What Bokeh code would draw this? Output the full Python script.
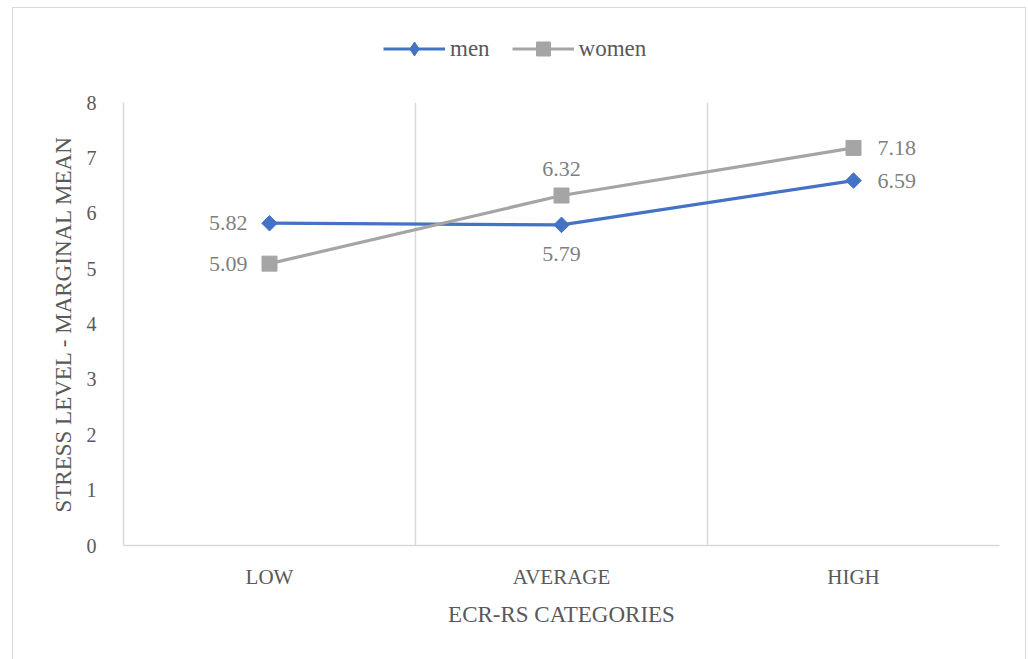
import math
from bokeh.plotting import figure
from bokeh.layouts import column
from bokeh.models import (ColumnDataSource, FixedTicker, Range1d, Legend, LegendItem)
from bokeh.core.properties import value
from bokeh.embed import file_html
from bokeh.resources import INLINE

# ---- data ----
categories = ["LOW", "AVERAGE", "HIGH"]
men = [5.82, 5.79, 6.59]
women = [5.09, 6.32, 7.18]
y_ticks = [0, 1, 2, 3, 4, 5, 6, 7, 8]
men_label_side = ["left", "below", "right"]
women_label_side = ["left", "above", "right"]

FONT = "Liberation Serif"
TXT = "#595959"
LBL = "#7f7f7f"
GRID = "#d9d9d9"
BLUE = "#4472C4"
GREY = "#A5A5A5"

xs = [i + 0.5 for i in range(len(categories))]

# ---------------- main chart ----------------
p = figure(width=1012, height=577, output_backend="svg", toolbar_location=None,
           x_range=Range1d(0, len(categories)), y_range=Range1d(0, max(y_ticks)),
           min_border_left=110, min_border_right=26, min_border_top=20, min_border_bottom=114)
p.outline_line_color = None
p.background_fill_color = "white"
p.border_fill_color = "white"

p.xaxis.ticker = FixedTicker(ticks=xs)
p.xaxis.major_label_overrides = {x: c for x, c in zip(xs, categories)}
p.yaxis.ticker = FixedTicker(ticks=y_ticks)
for ax in (p.xaxis[0], p.yaxis[0]):
    ax.axis_line_color = GRID
    ax.axis_line_width = 1.5
    ax.major_tick_line_color = None
    ax.minor_tick_line_color = None
    ax.major_label_text_font = FONT
    ax.major_label_text_color = TXT
    ax.axis_label_text_font = FONT
    ax.axis_label_text_color = TXT
    ax.axis_label_text_font_style = "normal"
    ax.axis_label_text_font_size = "23px"
p.xaxis.major_label_text_font_size = "21px"
p.yaxis.major_label_text_font_size = "20px"
p.xaxis.axis_label = "ECR-RS CATEGORIES"
p.yaxis.axis_label = "STRESS LEVEL - MARGINAL MEAN"
p.xaxis.major_label_standoff = 13
p.xaxis.axis_label_standoff = 10
p.yaxis.major_label_standoff = 21
p.yaxis.axis_label_standoff = 8

p.ygrid.grid_line_color = None
p.xgrid.ticker = FixedTicker(ticks=list(range(1, len(categories) + 1)))
p.xgrid.grid_line_color = GRID
p.xgrid.grid_line_width = 1.5

src_m = ColumnDataSource(dict(x=xs, y=men))
src_w = ColumnDataSource(dict(x=xs, y=women))
MEN_MARK = dict(marker="square", angle=math.pi / 4, size=11, fill_color=BLUE, line_color=BLUE)
WOMEN_MARK = dict(marker="square", size=15, fill_color=GREY, line_color=GREY)
p.line("x", "y", source=src_m, line_color=BLUE, line_width=3.2)
p.scatter("x", "y", source=src_m, **MEN_MARK)
p.line("x", "y", source=src_w, line_color=GREY, line_width=3.2)
p.scatter("x", "y", source=src_w, **WOMEN_MARK)

def add_labels(xv, yv, sides):
    offs = {"left": (-22, 0, "right", "middle"),
            "right": (24, 0, "left", "middle"),
            "above": (0, -27, "center", "middle"),
            "below": (0, 29, "center", "middle")}
    for x, y, s in zip(xv, yv, sides):
        dx, dy, al, bl = offs[s]
        p.text(x=[x], y=[y], text=[f"{y:.2f}"], x_offset=dx, y_offset=dy,
               text_align=al, text_baseline=bl, text_font=value(FONT),
               text_font_size="22px", text_color=LBL)

add_labels(xs, men, men_label_side)
add_labels(xs, women, women_label_side)

# ---------------- legend strip (same series, drawn outside its visible range) ----------------
lg = figure(width=1012, height=74, output_backend="svg", toolbar_location=None,
            x_range=Range1d(0, len(categories)), y_range=Range1d(-2, -1),
            x_axis_type=None, y_axis_type=None,
            min_border_left=0, min_border_right=0, min_border_top=0, min_border_bottom=0)
lg.outline_line_color = None
lg.xgrid.visible = False
lg.ygrid.visible = False
l1 = lg.line("x", "y", source=src_m, line_color=BLUE, line_width=3.2)
m1 = lg.scatter("x", "y", source=src_m, marker="diamond", size=15, fill_color=BLUE, line_color=BLUE)
l2 = lg.line("x", "y", source=src_w, line_color=GREY, line_width=3.2)
m2 = lg.scatter("x", "y", source=src_w, **WOMEN_MARK)
legend = Legend(items=[LegendItem(label="men", renderers=[l1, m1]),
                       LegendItem(label="women", renderers=[l2, m2])],
                orientation="horizontal", location=(260, 16),
                glyph_width=62, glyph_height=35, label_standoff=5, spacing=22,
                padding=0, margin=0, border_line_color=None, background_fill_alpha=0,
                label_text_font=FONT, label_text_font_size="23px", label_text_color=TXT)
lg.add_layout(legend)

page = column(lg, p, spacing=0, margin=(8, 0, 0, 13),
              styles={"outline": "1.5px solid #d9d9d9"})

open("out.html", "w").write(file_html(page, INLINE))
